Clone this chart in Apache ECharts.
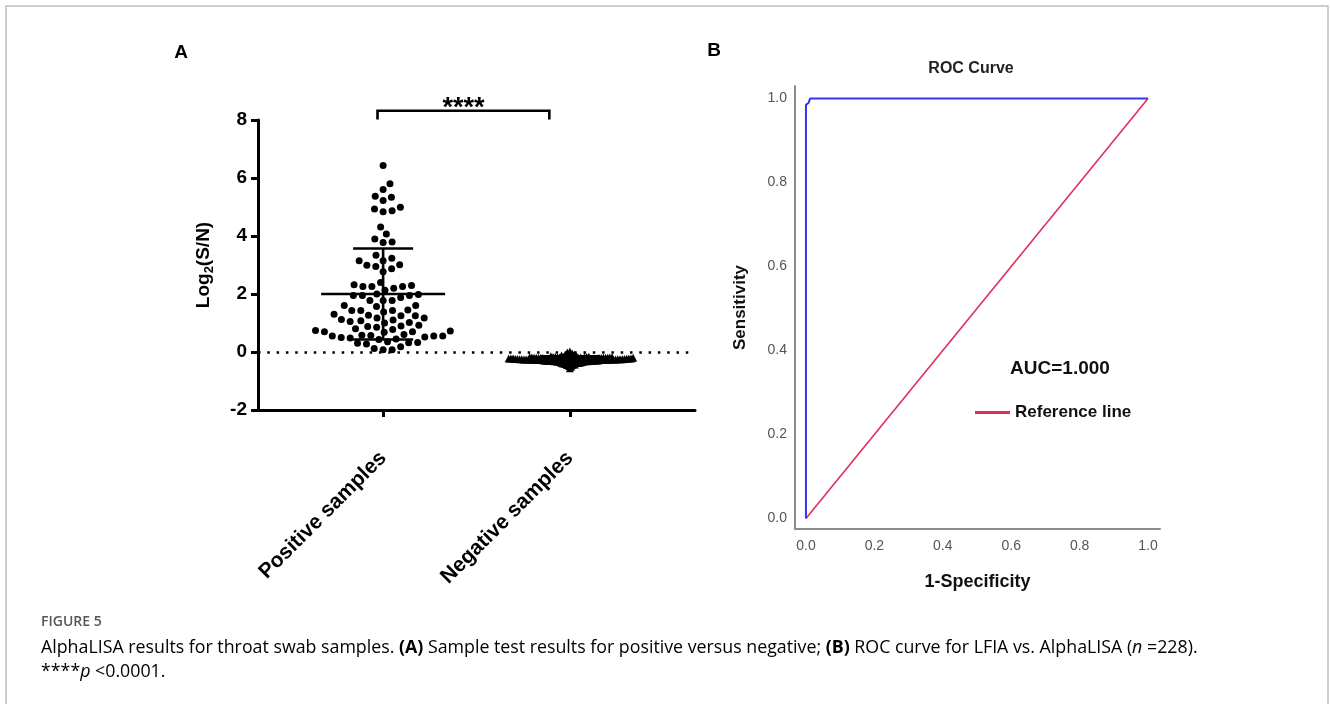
<!DOCTYPE html>
<html>
<head>
<meta charset="utf-8">
<script src="https://cdn.jsdelivr.net/npm/echarts@6/dist/echarts.min.js"></script>
<style>
html,body{margin:0;padding:0;background:#fff;}
#main{width:1330px;height:704px;}
</style>
</head>
<body>
<div id="main"></div>
<script>
// ---------- DATA ----------
const categories = ['Positive samples', 'Negative samples'];
const positiveValues = [
  6.43,
  5.80, 5.60,
  5.37, 5.34, 5.22,
  4.99, 4.93, 4.87, 4.84,
  4.31, 4.07,
  3.90, 3.79, 3.78,
  3.34, 3.23, 3.15, 3.15,
  3.01, 2.99, 2.95, 2.87, 2.77,
  2.40, 2.32, 2.29, 2.26, 2.26, 2.26, 2.20, 2.13,
  2.00, 1.98, 1.95, 1.95, 1.95, 1.88,
  1.78, 1.78, 1.78, 1.60, 1.60, 1.57,
  1.45, 1.43, 1.43, 1.43, 1.38, 1.30, 1.27, 1.25, 1.25, 1.17, 1.17,
  1.12, 1.10, 1.08, 1.05, 1.02, 1.00,
  0.92, 0.90, 0.88, 0.85, 0.80, 0.78, 0.74, 0.72, 0.70, 0.70, 0.68,
  0.60, 0.58, 0.57, 0.55, 0.55, 0.55, 0.52, 0.50, 0.48, 0.45, 0.43,
  0.35, 0.33, 0.32, 0.30, 0.28,
  0.18, 0.12, 0.08, 0.08
];
const negativeValues = [
  -0.21,-0.24,-0.18,-0.27,-0.30,-0.22,-0.25,-0.19,-0.33,-0.26,
  -0.20,-0.23,-0.28,-0.16,-0.31,-0.24,-0.21,-0.35,-0.27,-0.18,
  -0.25,-0.29,-0.22,-0.14,-0.32,-0.26,-0.20,-0.38,-0.23,-0.28,
  -0.17,-0.30,-0.24,-0.12,-0.27,-0.21,-0.34,-0.25,-0.19,-0.29,
  -0.22,-0.40,-0.26,-0.15,-0.31,-0.23,-0.18,-0.36,-0.28,-0.20,
  -0.24,-0.09,-0.33,-0.27,-0.21,-0.42,-0.25,-0.17,-0.30,-0.22,
  -0.05, 0.02,-0.07,-0.45,-0.48,-0.26,-0.19,-0.37,-0.23,-0.29,
  -0.11,-0.44,-0.24,-0.20,-0.32,-0.27,-0.16,-0.39,-0.22,-0.28,
  -0.02,-0.50,-0.25,-0.13,-0.35,-0.21,-0.30,-0.18,-0.26,-0.41,
  -0.23,-0.56,-0.27,-0.19,-0.33,-0.24,-0.10,-0.43,-0.28,-0.21,
  -0.25,-0.31,-0.17,-0.26,-0.22,-0.36,-0.29,-0.15,-0.24,-0.20,
  -0.27,-0.34,-0.19,-0.23,-0.30,-0.25,-0.16,-0.28,-0.21,-0.38,
  -0.22,-0.26,-0.18,-0.32,-0.24,-0.29,-0.20,-0.27,-0.23,-0.25,
  -0.19,-0.31,-0.22,-0.26,-0.28,-0.21
];
const positiveMeanSD = [2.0, 1.57];
const negativeMeanSD = [-0.25, 0.10];
const significance = '****';

const rocFPR = [0, 0, 0.008, 0.012, 1];
const rocTPR = [0, 0.985, 0.99, 1, 1];
const refFPR = [0, 1];
const refTPR = [0, 1];
const rocTicks = [0, 0.2, 0.4, 0.6, 0.8, 1.0];
const aucText = 'AUC=1.000';

// ---------- LAYOUT ----------
const W = 1330, H = 704;
const gridA = {left: 258, top: 120, right: W - 695, bottom: H - 410};
const xMinA = 0.33, xMaxA = 2.67, yMinA = -2, yMaxA = 8;
const pxPerXA = (W - gridA.left - gridA.right) / (xMaxA - xMinA);
const pxPerYA = (H - gridA.top - gridA.bottom) / (yMaxA - yMinA);

function swarm(values, center, d) {
  const order = values.map((v, i) => i).sort((a, b) => values[a] - values[b]);
  const placed = [];
  const out = new Array(values.length);
  for (const i of order) {
    const y = values[i] * pxPerYA;
    const near = placed.filter(p => Math.abs(p.y - y) < d);
    const cands = [0];
    near.forEach(p => {
      const dx = Math.sqrt(d * d - (p.y - y) * (p.y - y));
      cands.push(p.x + dx, p.x - dx);
    });
    cands.sort((a, b) => Math.abs(a) - Math.abs(b));
    let x = 0;
    for (const c of cands) {
      if (near.every(p => (p.x - c) * (p.x - c) + (p.y - y) * (p.y - y) >= d * d - 1e-6)) { x = c; break; }
    }
    placed.push({x, y});
    out[i] = [center + x / pxPerXA, values[i]];
  }
  return out;
}

const posPoints = swarm(positiveValues, 1, 9);
const negPoints = swarm(negativeValues, 2, 2.2);

function errRender(params, api) {
  const x = api.value(0), m = api.value(1), s = api.value(2);
  const c = api.coord([x, m]);
  const t = api.coord([x, m + s]);
  const b = api.coord([x, m - s]);
  const st = {stroke: '#000', lineWidth: 2.6};
  return {type: 'group', children: [
    {type: 'line', shape: {x1: c[0] - 62, y1: c[1], x2: c[0] + 62, y2: c[1]}, style: st},
    {type: 'line', shape: {x1: c[0], y1: t[1], x2: c[0], y2: b[1]}, style: st},
    {type: 'line', shape: {x1: c[0] - 30, y1: t[1], x2: c[0] + 30, y2: t[1]}, style: st},
    {type: 'line', shape: {x1: c[0] - 30, y1: b[1], x2: c[0] + 30, y2: b[1]}, style: st}
  ]};
}

function bracketRender(params, api) {
  const x1 = api.value(0), x2 = api.value(1), yb = api.value(2), yt = api.value(3);
  const p1 = api.coord([x1, yb]), p2 = api.coord([x1, yt]), p3 = api.coord([x2, yt]), p4 = api.coord([x2, yb]);
  return {type: 'group', children: [
    {type: 'polyline', shape: {points: [p1, p2, p3, p4]}, style: {stroke: '#000', lineWidth: 2.6, fill: null}},
    {type: 'text', x: (p2[0] + p3[0]) / 2, y: p2[1] - 2,
     style: {text: significance, fontSize: 27, fontWeight: 'bold', fontFamily: 'Liberation Sans, Arial', fill: '#000', align: 'center', verticalAlign: 'middle'}}
  ]};
}

const chart = echarts.init(document.getElementById('main'), null, {renderer: 'canvas'});
const F = 'Liberation Sans, Arial, sans-serif';
const capN = {fontFamily: 'Open Sans', fontSize: 17.8, color: '#737373'};

const option = {
  backgroundColor: '#fff',
  animation: false,
  textStyle: {fontFamily: F},
  grid: [
    gridA,
    {left: 795, top: 86, right: W - 1160, bottom: H - 529}
  ],
  xAxis: [
    {gridIndex: 0, type: 'value', min: xMinA, max: xMaxA,
     axisLine: {show: true, onZero: false, lineStyle: {color: '#000', width: 3}},
     axisTick: {show: true, customValues: [1, 2], length: 7, lineStyle: {color: '#000', width: 3}},
     axisLabel: {customValues: [1, 2], formatter: v => categories[Math.round(v) - 1] || '', rotate: 45,
                 fontSize: 21, fontWeight: 'bold', color: '#000', fontFamily: F, margin: 45},
     splitLine: {show: false}},
    {gridIndex: 1, type: 'value', min: -0.032, max: 1.035,
     name: '1-Specificity', nameLocation: 'middle', nameGap: 44,
     nameTextStyle: {fontSize: 18, fontWeight: 'bold', color: '#111', fontFamily: F},
     axisLine: {show: true, onZero: false, lineStyle: {color: '#8c8c8c', width: 2}},
     axisTick: {show: false},
     axisLabel: {customValues: rocTicks, formatter: v => v.toFixed(1), fontSize: 14, color: '#555', margin: 10, fontFamily: F},
     splitLine: {show: false}}
  ],
  yAxis: [
    {gridIndex: 0, type: 'value', min: yMinA, max: yMaxA, interval: 2,
     name: '{a|Log}{s|2}{a|(S/N)}', nameLocation: 'middle', nameGap: 42, nameRotate: 90,
     nameTextStyle: {rich: {
       a: {fontSize: 19, fontWeight: 'bold', color: '#000', fontFamily: F, lineHeight: 24},
       s: {fontSize: 13, fontWeight: 'bold', color: '#000', fontFamily: F, lineHeight: 24, verticalAlign: 'bottom', padding: [8, 0, 0, 0]}
     }},
     axisLine: {show: true, onZero: false, lineStyle: {color: '#000', width: 3}},
     axisTick: {show: true, length: 7, lineStyle: {color: '#000', width: 3}},
     axisLabel: {fontSize: 19, fontWeight: 'bold', color: '#000', margin: 11, fontFamily: F},
     splitLine: {show: false}},
    {gridIndex: 1, type: 'value', min: -0.025, max: 1.03,
     name: 'Sensitivity', nameLocation: 'middle', nameGap: 46, nameRotate: 90,
     nameTextStyle: {fontSize: 17, fontWeight: 'bold', color: '#111', fontFamily: F},
     axisLine: {show: true, onZero: false, lineStyle: {color: '#8c8c8c', width: 2}},
     axisTick: {show: false},
     axisLabel: {customValues: rocTicks, formatter: v => v.toFixed(1), fontSize: 14, color: '#555', margin: 8, fontFamily: F},
     splitLine: {show: false}}
  ],
  legend: {
    data: ['Reference line'], left: 970, top: 399, icon: 'rect', itemWidth: 35, itemHeight: 3,
    selectedMode: false,
    textStyle: {fontSize: 17, fontWeight: 'bold', color: '#111', fontFamily: F}
  },
  series: [
    {type: 'custom', xAxisIndex: 0, yAxisIndex: 0, renderItem: errRender, z: 1,
     data: [[2, negativeMeanSD[0], negativeMeanSD[1]]], silent: true},
    {type: 'scatter', xAxisIndex: 0, yAxisIndex: 0, symbol: 'circle', symbolSize: 7,
     itemStyle: {color: '#000', opacity: 1}, data: posPoints, z: 3,
     markLine: {silent: true, symbol: 'none', label: {show: false},
       lineStyle: {color: '#000', type: [2.5, 6.8], width: 2.5, opacity: 1},
       data: [{yAxis: 0}]}},
    {type: 'scatter', xAxisIndex: 0, yAxisIndex: 0, symbol: 'triangle', symbolSize: 8,
     itemStyle: {color: '#000', opacity: 1}, data: negPoints, z: 3},
    {type: 'custom', xAxisIndex: 0, yAxisIndex: 0, renderItem: errRender, z: 4,
     data: [[1, positiveMeanSD[0], positiveMeanSD[1]]], silent: true},
    {type: 'custom', xAxisIndex: 0, yAxisIndex: 0, renderItem: bracketRender, clip: false, z: 4,
     data: [[0.97, 1.89, 8.02, 8.32]], silent: true},
    {name: 'ROC', type: 'line', xAxisIndex: 1, yAxisIndex: 1, showSymbol: false,
     lineStyle: {color: '#3434f5', width: 2}, itemStyle: {color: '#3434f5'},
     data: rocFPR.map((x, i) => [x, rocTPR[i]]), z: 3},
    {name: 'Reference line', type: 'line', xAxisIndex: 1, yAxisIndex: 1, showSymbol: false,
     lineStyle: {color: '#de2f5c', width: 1.6}, itemStyle: {color: '#de2f5c'},
     data: refFPR.map((x, i) => [x, refTPR[i]]), z: 2}
  ],
  graphic: [
    {type: 'rect', shape: {x: 6, y: 6, width: 1322, height: 720}, style: {fill: null, stroke: '#bdbdbd', lineWidth: 1.5}, silent: true},
    {type: 'text', x: 181, y: 53, style: {text: 'A', fontSize: 19, fontWeight: 'bold', fill: '#000', fontFamily: F, align: 'center', verticalAlign: 'middle'}},
    {type: 'text', x: 714, y: 51, style: {text: 'B', fontSize: 19, fontWeight: 'bold', fill: '#000', fontFamily: F, align: 'center', verticalAlign: 'middle'}},
    {type: 'text', x: 971, y: 69, style: {text: 'ROC Curve', fontSize: 16, fontWeight: 'bold', fill: '#222', fontFamily: F, align: 'center', verticalAlign: 'middle'}},
    {type: 'text', x: 1060, y: 369, style: {text: aucText, fontSize: 19, fontWeight: 'bold', fill: '#111', fontFamily: F, align: 'center', verticalAlign: 'middle'}},
    {type: 'text', x: 41, y: 622, style: {text: 'FIGURE 5', fontSize: 14, fontWeight: 600, fill: '#555', fontFamily: 'Open Sans', verticalAlign: 'middle'}},
    {type: 'text', x: 41, y: 648, style: {
      text: '{n|AlphaLISA results for throat swab samples. }{b|(A)}{n| Sample test results for positive versus negative; }{b|(B)}{n| ROC curve for LFIA vs. AlphaLISA (}{i|n}{n| =228).}',
      verticalAlign: 'middle',
      rich: {n: capN, b: Object.assign({}, capN, {fontWeight: 'bold', color: '#555'}), i: Object.assign({}, capN, {fontStyle: 'italic'})}}},
    {type: 'text', x: 41, y: 672, style: {
      text: '{n|****}{i|p}{n| <0.0001.}',
      verticalAlign: 'middle',
      rich: {n: capN, i: Object.assign({}, capN, {fontStyle: 'italic'})}}}
  ]
};
chart.setOption(option);
</script>
</body>
</html>
